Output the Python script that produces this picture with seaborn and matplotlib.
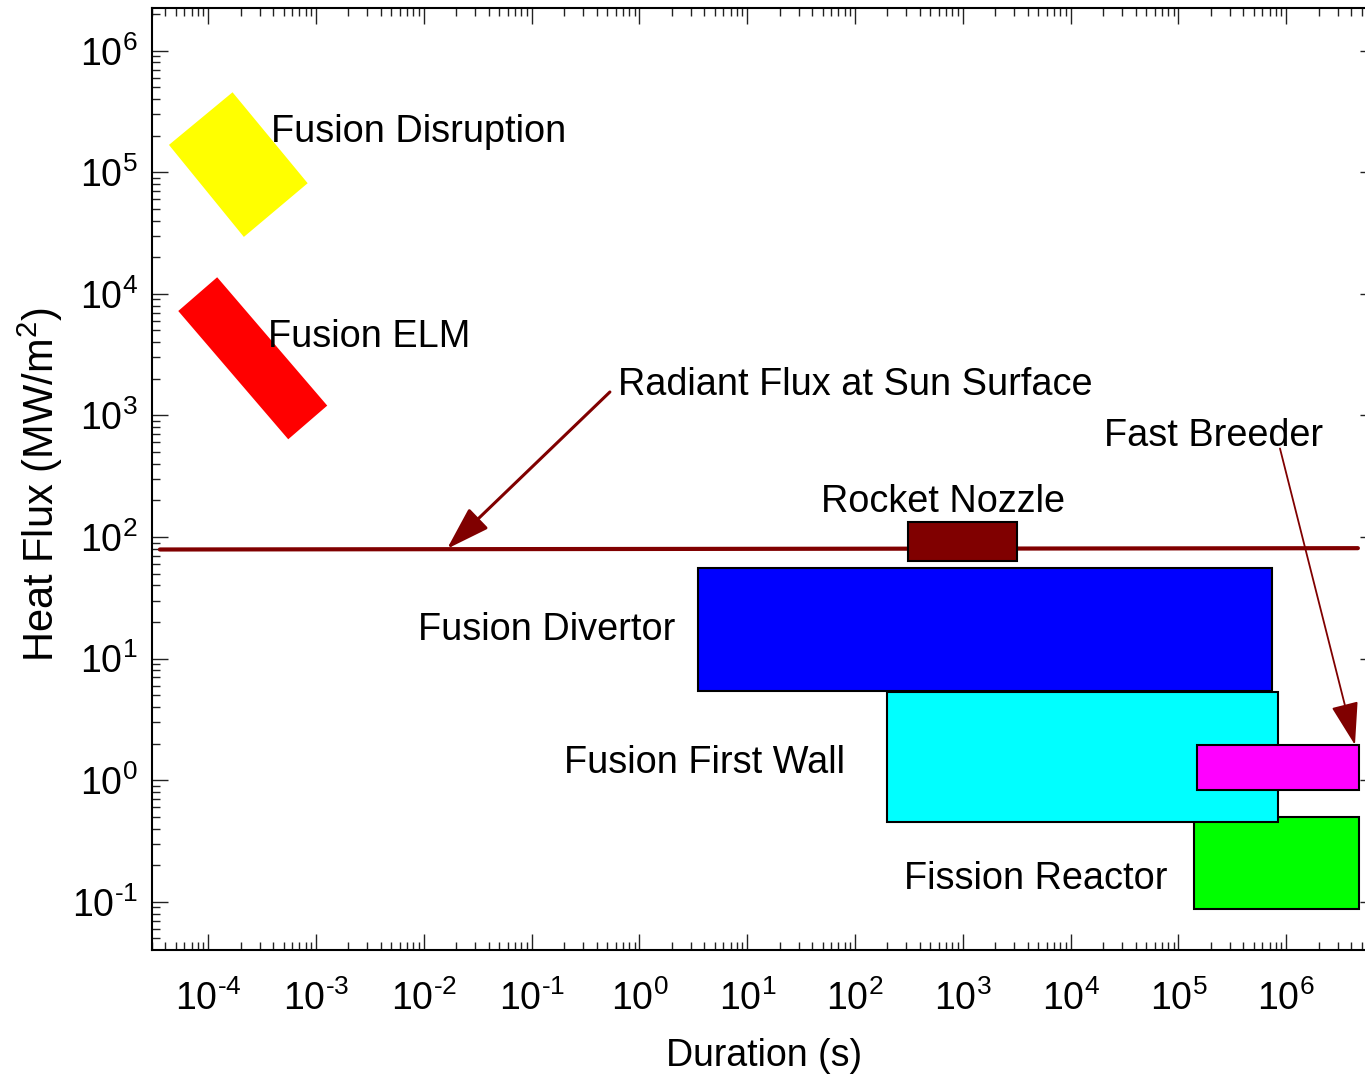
import numpy as np
import seaborn as sns
import matplotlib
matplotlib.use("Agg")
import matplotlib.pyplot as plt
from matplotlib.patches import Rectangle, Polygon
from matplotlib.ticker import LogLocator, NullFormatter, FuncFormatter

# rectangular regimes: duration range (s) and heat flux range (MW/m^2)
box_names = ["Fission Reactor", "Fusion First Wall", "Fast Breeder", "Fusion Divertor", "Rocket Nozzle"]
box_t_min = [1.4e5, 196, 1.49e5, 3.5, 312]
box_t_max = [4.7e6, 8.3e5, 4.7e6, 7.4e5, 3160]
box_q_min = [0.087, 0.457, 0.83, 5.4, 63.6]
box_q_max = [0.50, 5.3, 1.94, 55.7, 133]
box_colors = ["#00ff00", "#00ffff", "#ff00ff", "#0000ff", "#800000"]

# tilted bands for the transient fusion events (corner points)
disruption_t = [4.32e-5, 1.68e-4, 8.36e-4, 2.14e-4]
disruption_q = [1.68e5, 4.55e5, 8.13e4, 2.94e4]
elm_t = [5.27e-5, 1.21e-4, 1.27e-3, 5.52e-4]
elm_q = [7230, 13700, 1205, 637]

# radiant flux at the sun surface
sun_t = [3.56e-5, 4.62e6]
sun_q = [79, 81]

# labels: text, duration, heat flux (baseline left)
labels = [
    ("Fusion Disruption", 3.82e-4, 1.77e5),
    ("Fusion ELM", 3.6e-4, 3680),
    ("Radiant Flux at Sun Surface", 0.632, 1476),
    ("Fast Breeder", 2.04e4, 561),
    ("Rocket Nozzle", 48.3, 161),
    ("Fusion Divertor", 8.8e-3, 14.1),
    ("Fusion First Wall", 0.2, 1.14),
    ("Fission Reactor", 284, 0.128),
]

dark_red = "#800000"

sns.set_theme(style="ticks")
plt.rcParams["font.family"] = ["Liberation Sans", "DejaVu Sans"]
plt.rcParams["mathtext.default"] = "regular"
plt.rcParams["text.color"] = "black"
plt.rcParams["axes.labelcolor"] = "black"
plt.rcParams["xtick.color"] = "black"
plt.rcParams["ytick.color"] = "black"


def decade_label(v, pos):
    p = int(round(np.log10(v)))
    return "$10^{%s}$" % str(p).replace("-", "\u2010")


fig = plt.figure(figsize=(13.65, 10.74), dpi=100)
ax = fig.add_axes([0.1111, 0.1155, 0.8969, 0.8768])
ax.set_xscale("log")
ax.set_yscale("log")
ax.set_xlim(10 ** -4.525, 10 ** 6.832)
ax.set_ylim(10 ** -1.396, 10 ** 6.349)

sns.lineplot(x=sun_t, y=sun_q, ax=ax, color=dark_red, lw=3, zorder=2)

ax.add_patch(Polygon(list(zip(disruption_t, disruption_q)), closed=True,
                     facecolor="#ffff00", edgecolor="none", zorder=3))
ax.add_patch(Polygon(list(zip(elm_t, elm_q)), closed=True,
                     facecolor="#ff0000", edgecolor="none", zorder=3))

for i, name in enumerate(box_names):
    ax.add_patch(Rectangle((box_t_min[i], box_q_min[i]),
                           box_t_max[i] - box_t_min[i],
                           box_q_max[i] - box_q_min[i],
                           facecolor=box_colors[i], edgecolor="black",
                           lw=1.5, zorder=3 + i * 0.1))

for text, t, q in labels:
    ax.text(t, q, text, fontsize=27.3, ha="left", va="baseline", zorder=5)

# arrows
ax.annotate("", xy=(0.0164, 80), xytext=(0.532, 1560),
            arrowprops=dict(arrowstyle="-|>,head_length=27,head_width=8.6",
                            color=dark_red, lw=2.2, shrinkA=0, shrinkB=0,
                            mutation_scale=1), zorder=6)
ax.annotate("", xy=(4.34e6, 1.95), xytext=(8.75e5, 535),
            arrowprops=dict(arrowstyle="-|>,head_length=27,head_width=8.6",
                            color=dark_red, lw=1.3, shrinkA=0, shrinkB=0,
                            mutation_scale=1), zorder=6)

ax.xaxis.set_major_locator(LogLocator(base=10, numticks=30))
ax.xaxis.set_minor_locator(LogLocator(base=10, subs=np.arange(2, 10), numticks=300))
ax.yaxis.set_major_locator(LogLocator(base=10, numticks=30))
ax.yaxis.set_minor_locator(LogLocator(base=10, subs=np.arange(2, 10), numticks=300))
ax.xaxis.set_major_formatter(FuncFormatter(decade_label))
ax.yaxis.set_major_formatter(FuncFormatter(decade_label))
ax.xaxis.set_minor_formatter(NullFormatter())
ax.yaxis.set_minor_formatter(NullFormatter())

ax.tick_params(which="both", direction="in", top=True, right=True, color="#222222")
ax.tick_params(which="major", length=11.5, width=1.0, labelsize=27)
ax.tick_params(axis="x", which="major", pad=22)
ax.tick_params(axis="y", which="major", pad=10)
ax.tick_params(which="minor", length=6, width=1.0)
for s in ax.spines.values():
    s.set_linewidth(1.5)
    s.set_color("black")

ax.set_xlabel("Duration (s)", fontsize=27)
ax.set_ylabel("Heat Flux (MW/m$^2$)", fontsize=30)
ax.xaxis.set_label_coords(0.5, -0.094)
ax.yaxis.set_label_coords(-0.071, 0.494)

fig.savefig("out.png", dpi=100)
